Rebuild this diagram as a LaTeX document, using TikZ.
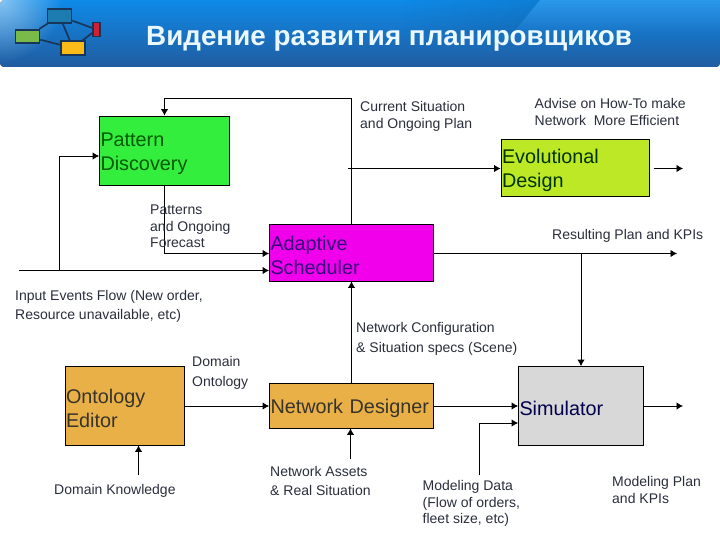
\documentclass[tikz,border=0pt]{standalone}
\usepackage{fontspec}
\setmainfont{Liberation Sans}
\usetikzlibrary{arrows.meta,fadings}
\tikzfading[name=cornerFade, inner color=transparent!0, outer color=transparent!100]
\definecolor{bannerTop}{RGB}{14, 138, 232}
\definecolor{bannerLow}{RGB}{33, 92, 160}
\definecolor{patternGreen}{RGB}{51, 238, 61}
\definecolor{adaptiveMag}{RGB}{240, 0, 235}
\definecolor{evolLime}{RGB}{188, 232, 38}
\definecolor{editorGold}{RGB}{232, 176, 70}
\definecolor{simGrey}{RGB}{216, 216, 216}
\definecolor{labelInk}{RGB}{42, 46, 60}
\definecolor{chipEdge}{RGB}{24, 54, 92}
\definecolor{chipBlue}{RGB}{28, 124, 176}
\definecolor{chipGreen}{RGB}{122, 186, 72}
\definecolor{chipGold}{RGB}{250, 186, 24}
\definecolor{chipRed}{RGB}{208, 32, 52}
\tikzset{
  block/.style={draw=black, line width=0.9pt, inner sep=1pt, align=left, font=\fontsize{19.8}{24}\selectfont, execute at begin node={\rule{0pt}{20pt}}},
  note/.style={anchor=north west, inner sep=0pt, align=left, text=labelInk, font=\fontsize{14}{16.8}\selectfont},
  flow/.style={line width=0.9pt, -{Latex[length=6.5pt,width=7.5pt]}},
  chip/.style={draw=chipEdge, line width=1.7pt, inner sep=0pt}
}
\begin{document}
\begin{tikzpicture}[x=1pt, y=-1pt]
  \useasboundingbox (0,0) rectangle (720,540);
  % banner
  \fill[top color=bannerTop, bottom color=bannerLow] (0,0) -- (720,0) -- (720,62) [rounded corners=4pt] -- (720,67) -- (0,67) -- cycle;
  \fill[white, path fading=south, opacity=0.12] (540,0) -- (720,0) -- (720,34) -- (512,34) -- cycle;
  \fill[black, path fading=west, opacity=0.08] (400,0) -- (540,0) -- (512,34) -- (400,34) -- cycle;
  \fill[white, path fading=cornerFade, opacity=0.5] (0,0) circle (62);
  \node (logoBlue) [chip, fill=chipBlue, minimum width=24pt, minimum height=13.5pt] at (59.5,16) {};
  \node (logoGreen) [chip, fill=chipGreen, minimum width=24pt, minimum height=13.5pt] at (27.5,36.5) {};
  \node (logoGold) [chip, fill=chipGold, minimum width=24pt, minimum height=13.5pt] at (73,48) {};
  \node (logoRed) [chip, fill=chipRed, minimum width=7pt, minimum height=14pt] at (96.5,29.5) {};
  \draw[chip] (logoBlue) -- (logoGreen);
  \draw[chip] (logoBlue) -- (logoGold);
  \draw[chip] (logoBlue) -- (logoRed);
  \draw[chip] (logoGreen) -- (logoGold);
  \draw[chip] (logoGold) -- (logoRed);
  \node (title) [anchor=base west, inner sep=0pt, text=white!92!cyan, font=\fontsize{27.8}{30}\selectfont\bfseries] at (146,46) {Видение развития планировщиков};

  % blocks
  \node (pattern) [block, fill=patternGreen, text=green!35!black, minimum width=130pt, minimum height=69.5pt, text width=128pt] at (164.5,150.75) {Pattern\\Discovery};
  \node (adaptive) [block, fill=adaptiveMag, text=blue!60!black!80!red, minimum width=164pt, minimum height=57pt, text width=162pt] at (351.5,252.5) {Adaptive\\Scheduler};
  \node (evol) [block, fill=evolLime, text=green!20!black, minimum width=148.5pt, minimum height=57pt, text width=146.5pt] at (575.25,167.5) {Evolutional\\Design};
  \node (editor) [block, fill=editorGold, text=black!80!olive, minimum width=119.5pt, minimum height=78.5pt, text width=117.5pt] at (124.75,405.75) {Ontology\\Editor};
  \node (designer) [block, fill=editorGold, text=black!80!olive, minimum width=164pt, minimum height=45pt, text width=162pt] at (351.5,405.5) {Network Designer};
  \node (simulator) [block, fill=simGrey, text=blue!30!black, minimum width=125pt, minimum height=78.5pt, text width=123pt] at (581,405.75) {Simulator};

  % free ends
  \coordinate (inStart) at (19,270.5);
  \coordinate (inBranch) at (59.5,270.5);
  \coordinate (patIn) at (59.5,156);
  \coordinate (loopRight) at (351.5,98.5);
  \coordinate (loopLeft) at (164.5,98.5);
  \coordinate (evolStart) at (348,168.5);
  \coordinate (evolOut) at (683,168.5);
  \coordinate (forecastCorner) at (164.5,253.5);
  \coordinate (planOut) at (677,253.5);
  \coordinate (planBranch) at (581,253.5);
  \coordinate (dataStart) at (479,475);
  \coordinate (dataCorner) at (479,423);
  \coordinate (simOut) at (683,406);
  \coordinate (knowStart) at (138.5,475);
  \coordinate (assetStart) at (350.5,459);

  % connectors
  \draw[flow] (adaptive.north) -- (loopRight) -- (loopLeft) -- (pattern.north);
  \draw[flow] (evolStart) -- (evolStart -| evol.west);
  \draw[flow] (evol.east |- evolStart) ++(4.5,0) -- (evolOut);
  \draw[flow] (pattern.south) -- (forecastCorner) -- (forecastCorner -| adaptive.west);
  \draw[flow] (inStart) -- (inStart -| adaptive.west);
  \draw[flow] (inBranch) -- (patIn) -- (patIn -| pattern.west);
  \draw[flow] (planOut -| adaptive.east) -- (planOut);
  \draw[flow] (planBranch) -- (simulator.north);
  \draw[flow] (designer.north) -- (adaptive.south);
  \draw[flow] (editor.east |- simOut) -- (simOut -| designer.west);
  \draw[flow] (designer.east |- simOut) -- (simOut -| simulator.west);
  \draw[flow] (dataStart) -- (dataCorner) -- (dataCorner -| simulator.west);
  \draw[flow] (simulator.east |- simOut) -- (simOut);
  \draw[flow] (knowStart) -- (knowStart |- editor.south);
  \draw[flow] (assetStart) -- (assetStart |- designer.south);

  % labels
  \node (lblSituation) [note] at (360,101) {Current Situation\\and Ongoing Plan};
  \node (lblAdvise) [note] at (534.5,98) {Advise on How-To make\\Network\ \ More Efficient};
  \node (lblPatterns) [note] at (150,204.5) {Patterns\\and Ongoing\\Forecast};
  \node (lblResult) [note] at (552,229.5) {Resulting Plan and KPIs};
  \node (lblInput) [note, font=\fontsize{14}{19}\selectfont] at (15,290) {Input Events Flow (New order,\\Resource unavailable, etc)};
  \node (lblConfig) [note, font=\fontsize{14}{20}\selectfont] at (356,322) {Network Configuration\\\& Situation specs (Scene)};
  \node (lblOntology) [note, font=\fontsize{14}{20}\selectfont] at (192,356.5) {Domain\\Ontology};
  \node (lblKnowledge) [note] at (54,484) {Domain Knowledge};
  \node (lblAssets) [note, font=\fontsize{14}{19}\selectfont] at (270,466) {Network Assets\\\& Real Situation};
  \node (lblData) [note] at (422.5,480) {Modeling Data\\(Flow of orders,\\fleet size, etc)};
  \node (lblModel) [note] at (612,476) {Modeling Plan\\and KPIs};
\end{tikzpicture}
\end{document}
